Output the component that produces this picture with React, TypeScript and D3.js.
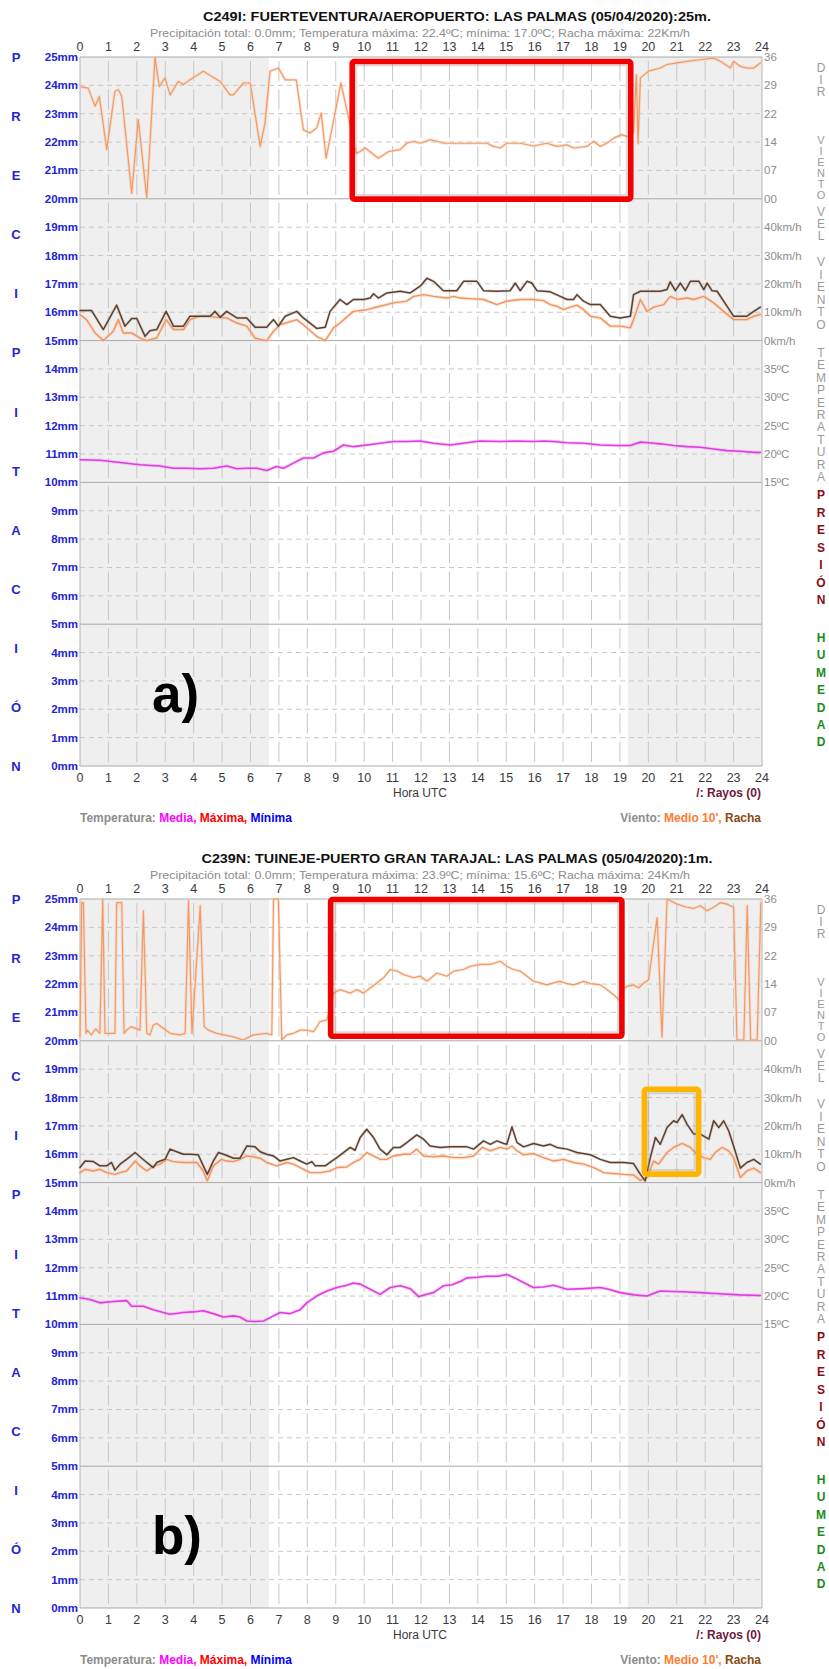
import React from 'react';
import * as d3 from 'd3';

type Pt = [number, number];

// ---- axis labels -------------------------------------------------------
const hourTicks = d3.range(0, 25);
const mmTicks = d3.range(0, 26);
const dirTickValues = [0, 7.2, 14.4, 21.6, 28.8, 36];
const dirTickLabels = ['00', '07', '14', '22', '29', '36'];
const speedTickValues = [0, 10, 20, 30, 40];
const speedTickLabels = ['0km/h', '10km/h', '20km/h', '30km/h', '40km/h'];
const tempTickValues = [15, 20, 25, 30, 35];
const tempTickLabels = ['15ºC', '20ºC', '25ºC', '30ºC', '35ºC'];

// night shading (hours UTC)
const sunrise = 6.65;
const sunset = 19.28;

// ---- station C249I (Fuerteventura aeropuerto) ---------------------------
const titleA = 'C249I: FUERTEVENTURA/AEROPUERTO: LAS PALMAS (05/04/2020):25m.';
const subtitleA =
  'Precipitación total: 0.0mm; Temperatura máxima: 22.4ºC; mínima: 17.0ºC; Racha máxima: 22Km/h';

// wind direction, tens of degrees
const dirA: Pt[] = [
  [0.04, 28.4], [0.29, 28.1], [0.53, 23.5], [0.68, 26.0], [0.94, 12.5], [1.23, 27.3], [1.35, 27.7],
  [1.47, 26.0], [1.82, 1.4], [2.05, 20.1], [2.35, 0.2], [2.64, 36.0], [2.79, 28.5], [2.99, 30.7],
  [3.17, 26.4], [3.46, 29.8], [3.64, 29.0], [3.87, 30.2], [4.34, 32.4], [4.93, 29.8], [5.28, 26.4],
  [5.4, 26.4], [5.75, 29.4], [5.99, 29.4], [6.34, 13.3], [6.51, 19.2], [6.69, 32.4], [6.98, 33.2],
  [7.22, 30.2], [7.61, 30.2], [7.86, 17.5], [8.1, 16.7], [8.33, 18.0], [8.49, 21.8], [8.66, 10.3],
  [8.86, 17.5], [9.18, 29.4], [9.39, 22.6], [9.72, 11.6], [9.86, 12.0], [10.04, 12.9], [10.5, 10.3],
  [10.86, 12.0], [11.27, 12.5], [11.5, 14.1], [11.74, 14.6], [11.97, 14.1], [12.32, 15.0],
  [12.56, 14.6], [12.79, 14.1], [13.62, 14.1], [14.32, 14.1], [14.55, 13.3], [14.79, 12.9],
  [15.02, 14.1], [15.49, 14.1], [15.96, 13.4], [16.43, 14.1], [16.78, 13.3], [17.14, 13.7],
  [17.37, 12.9], [17.84, 13.3], [18.08, 14.6], [18.31, 13.3], [18.54, 14.1], [18.78, 15.4],
  [19.07, 16.3], [19.25, 15.8], [19.48, 16.7], [19.58, 31.5], [19.64, 14.0], [19.72, 30.7],
  [20.01, 32.4], [20.42, 33.2], [20.66, 34.1], [21.01, 34.5], [21.36, 34.9], [21.83, 35.3],
  [22.3, 35.7], [22.54, 34.9], [22.89, 33.2], [23.0, 34.9], [23.24, 33.6], [23.47, 33.2],
  [23.71, 33.2], [23.94, 34.5],
];

// gusts (km/h)
const gustA: Pt[] = [
  [0, 10.6], [0.41, 10.6], [0.82, 3.9], [1.29, 12.5], [1.58, 5.1], [1.82, 7.8], [2.0, 7.8],
  [2.29, 1.5], [2.46, 3.5], [2.7, 3.9], [3.03, 10.3], [3.29, 5.1], [3.64, 5.1], [3.87, 8.6],
  [4.23, 8.6], [4.58, 8.6], [4.75, 10.3], [4.93, 8.2], [5.16, 10.3], [5.52, 8.0], [5.87, 8.0],
  [6.16, 4.7], [6.57, 4.7], [6.81, 7.4], [6.98, 5.1], [7.22, 8.6], [7.63, 10.3], [7.86, 8.0],
  [8.33, 4.3], [8.63, 4.7], [8.8, 10.3], [9.15, 14.5], [9.39, 12.7], [9.62, 14.5], [9.98, 14.5],
  [10.21, 15.0], [10.33, 16.5], [10.5, 15.0], [10.8, 16.8], [11.27, 17.4], [11.62, 16.8],
  [11.97, 19.2], [12.21, 22.0], [12.44, 20.9], [12.79, 17.6], [13.26, 17.6], [13.5, 20.9],
  [13.97, 20.9], [14.2, 17.6], [14.67, 17.4], [15.14, 17.6], [15.32, 20.3], [15.49, 17.6],
  [15.73, 20.9], [15.9, 20.3], [16.08, 17.6], [16.55, 17.2], [16.9, 15.6], [17.14, 14.5],
  [17.37, 14.5], [17.49, 16.2], [17.72, 13.9], [17.96, 12.7], [18.31, 12.7], [18.66, 8.6],
  [19.01, 8.0], [19.37, 8.6], [19.48, 16.2], [19.72, 17.4], [20.42, 17.4], [20.66, 18.0],
  [20.77, 20.7], [20.95, 17.6], [21.13, 20.3], [21.3, 17.6], [21.48, 20.9], [21.78, 20.9],
  [21.95, 18.0], [22.07, 20.3], [22.24, 17.6], [22.42, 17.4], [23.0, 8.6], [23.47, 8.6],
  [23.71, 10.3], [23.94, 11.8],
];

// 10-minute mean wind (km/h)
const windA: Pt[] = [
  [0, 9.2], [0.23, 7.4], [0.53, 2.7], [0.82, 0], [1.17, 3.3], [1.35, 7.4], [1.52, 2.7], [1.82, 2.7],
  [2.11, 0.9], [2.35, 0], [2.7, 0.9], [3.03, 7.4], [3.29, 3.9], [3.64, 3.9], [3.87, 7.4], [4.23, 8.6],
  [4.58, 8.6], [4.81, 8.2], [5.16, 8.0], [5.52, 6.2], [5.87, 5.1], [6.16, 0.9], [6.34, 0.4],
  [6.57, 0], [6.81, 3.3], [7.04, 5.6], [7.63, 7.4], [7.86, 5.6], [8.33, 1.5], [8.63, 0], [8.92, 4.5],
  [9.15, 6.2], [9.62, 10.3], [10.09, 10.9], [10.56, 12.1], [11.03, 13.3], [11.5, 13.9],
  [11.74, 15.6], [12.09, 16.2], [12.44, 15.6], [12.91, 15.0], [13.15, 15.6], [13.38, 15.0],
  [13.85, 14.7], [14.2, 14.5], [14.67, 12.7], [15.02, 13.9], [15.49, 14.5], [15.96, 14.5],
  [16.31, 14.1], [16.55, 12.7], [16.78, 12.1], [17.02, 10.9], [17.25, 11.8], [17.49, 12.5],
  [17.72, 10.9], [17.96, 8.6], [18.31, 8.0], [18.66, 5.1], [19.01, 5.1], [19.37, 4.5], [19.48, 7.4],
  [19.72, 14.5], [19.95, 10.3], [20.19, 11.8], [20.54, 12.7], [20.77, 15.6], [21.01, 14.5],
  [21.36, 15.0], [21.6, 14.5], [21.95, 15.6], [22.3, 13.3], [22.65, 10.3], [23.0, 7.4], [23.47, 7.4],
  [23.71, 8.6], [23.94, 9.2],
];

// mean temperature (ºC)
const tempA: Pt[] = [
  [0, 19.0], [0.7, 18.9], [1.41, 18.5], [2.11, 18.1], [2.82, 17.9], [3.29, 17.5], [3.76, 17.5],
  [4.23, 17.4], [4.69, 17.5], [5.16, 17.9], [5.52, 17.4], [5.87, 17.5], [6.22, 17.5], [6.57, 17.1],
  [6.92, 17.8], [7.16, 17.5], [7.51, 18.4], [7.86, 19.3], [8.22, 19.3], [8.57, 20.2], [8.92, 20.5],
  [9.27, 21.6], [9.62, 21.3], [10.09, 21.6], [10.56, 21.9], [11.03, 22.2], [11.5, 22.2],
  [11.97, 22.3], [12.44, 21.9], [13.03, 21.6], [13.62, 22.0], [14.08, 22.3], [14.79, 22.2],
  [15.38, 22.3], [15.96, 22.2], [16.31, 22.3], [16.67, 22.2], [17.14, 22.0], [17.72, 21.9],
  [18.31, 21.6], [18.9, 21.5], [19.37, 21.5], [19.72, 22.1], [20.01, 22.0], [20.42, 21.8],
  [20.89, 21.5], [21.36, 21.3], [21.83, 21.2], [22.3, 20.9], [22.77, 20.6], [23.24, 20.5],
  [23.71, 20.3], [23.94, 20.3],
];

// ---- station C239N (Tuineje - Puerto Gran Tarajal) -----------------------
const titleB = 'C239N: TUINEJE-PUERTO GRAN TARAJAL: LAS PALMAS (05/04/2020):1m.';
const subtitleB =
  'Precipitación total: 0.0mm; Temperatura máxima: 23.9ºC; mínima: 15.6ºC; Racha máxima: 24Km/h';

const dirB: Pt[] = [
  [0.0, 1.0], [0.06, 35.1], [0.12, 35.1], [0.21, 1.9], [0.26, 2.7], [0.4, 1.5], [0.55, 3.0],
  [0.7, 1.9], [0.8, 36.0], [0.88, 1.9], [1.1, 1.9], [1.23, 1.9], [1.29, 35.1], [1.47, 35.1],
  [1.55, 1.9], [1.64, 2.7], [1.8, 3.6], [2.11, 2.7], [2.23, 33.0], [2.35, 1.9], [2.46, 1.5],
  [2.58, 4.0], [2.7, 4.4], [2.93, 3.2], [3.17, 1.9], [3.52, 1.5], [3.7, 1.9], [3.82, 35.6],
  [3.94, 1.9], [4.23, 34.3], [4.37, 3.6], [4.52, 2.7], [4.81, 1.9], [5.4, 1.0], [5.75, 0.2],
  [6.1, 1.5], [6.57, 1.9], [6.75, 1.5], [6.81, 36.0], [6.98, 36.0], [7.1, 0.2], [7.28, 1.5],
  [7.51, 1.9], [7.75, 2.7], [7.98, 2.7], [8.22, 2.3], [8.45, 4.9], [8.69, 5.3], [8.92, 12.1],
  [9.15, 13.0], [9.51, 12.1], [9.74, 13.0], [9.98, 12.1], [10.21, 13.4], [10.45, 14.7],
  [10.68, 16.0], [10.92, 18.1], [11.15, 17.7], [11.39, 16.8], [11.74, 16.0], [11.97, 16.4],
  [12.21, 15.1], [12.56, 17.2], [12.91, 16.4], [13.15, 17.7], [13.5, 18.1], [13.73, 18.9],
  [14.08, 19.4], [14.44, 19.4], [14.79, 20.2], [15.02, 18.9], [15.26, 18.1], [15.49, 17.7],
  [15.73, 16.4], [15.96, 15.1], [16.2, 14.7], [16.43, 14.2], [16.67, 14.7], [16.9, 15.1],
  [17.14, 14.5], [17.37, 14.2], [17.72, 15.1], [17.96, 14.5], [18.31, 14.2], [18.54, 13.0],
  [18.78, 11.7], [18.96, 10.4], [19.07, 13.0], [19.25, 13.8], [19.48, 14.2], [19.66, 13.4],
  [19.84, 14.7], [20.01, 15.5], [20.31, 31.3], [20.48, 1.0], [20.66, 36.0], [20.77, 35.6],
  [21.01, 34.7], [21.36, 33.9], [21.6, 33.6], [21.83, 34.3], [22.07, 33.0], [22.3, 33.9],
  [22.54, 35.1], [22.77, 34.7], [23.0, 33.9], [23.12, 0.2], [23.36, 0.2], [23.48, 34.3],
  [23.6, 0.2], [23.83, 0.2], [23.96, 35.1],
];

const gustB: Pt[] = [
  [0, 5.3], [0.18, 7.6], [0.47, 7.4], [0.7, 5.9], [0.94, 5.9], [1.11, 7.1], [1.23, 4.4], [1.41, 6.5],
  [1.64, 8.2], [1.94, 10.6], [2.11, 9.1], [2.35, 7.1], [2.58, 5.3], [2.7, 7.1], [2.82, 7.6],
  [2.99, 8.2], [3.17, 11.8], [3.4, 10.9], [3.64, 10.0], [3.87, 10.0], [4.16, 9.8], [4.34, 5.9],
  [4.48, 2.9], [4.69, 7.6], [4.87, 10.6], [5.1, 9.8], [5.4, 8.6], [5.63, 8.6], [5.87, 12.9],
  [6.16, 12.6], [6.34, 10.9], [6.57, 10.0], [6.81, 9.4], [7.04, 7.6], [7.28, 8.2], [7.51, 8.8],
  [7.75, 7.6], [7.98, 6.5], [8.16, 7.4], [8.28, 5.9], [8.63, 5.9], [8.86, 7.6], [9.04, 8.8],
  [9.27, 10.6], [9.51, 12.4], [9.68, 11.4], [9.86, 15.9], [10.09, 18.8], [10.33, 15.9],
  [10.56, 11.8], [10.8, 9.8], [11.03, 12.4], [11.27, 12.4], [11.5, 14.1], [11.85, 16.8],
  [12.09, 15.3], [12.32, 12.9], [12.68, 12.4], [13.03, 12.6], [13.62, 12.6], [13.85, 11.8],
  [14.2, 14.7], [14.44, 13.5], [14.67, 14.7], [14.91, 13.8], [15.02, 13.5], [15.2, 19.6],
  [15.38, 14.1], [15.61, 12.6], [15.96, 13.8], [16.31, 12.9], [16.55, 13.5], [16.78, 12.4],
  [17.14, 11.8], [17.49, 10.6], [17.96, 9.8], [18.31, 8.2], [18.66, 7.1], [19.13, 7.1],
  [19.48, 6.7], [19.72, 2.9], [19.89, 0.6], [20.07, 8.8], [20.25, 15.9], [20.42, 13.5],
  [20.66, 19.4], [20.89, 21.8], [21.01, 21.2], [21.19, 24.0], [21.36, 20.6], [21.6, 17.1],
  [21.83, 17.1], [22.13, 15.3], [22.3, 21.8], [22.48, 19.4], [22.65, 21.8], [22.83, 18.2],
  [23.0, 12.9], [23.24, 5.1], [23.47, 7.1], [23.71, 8.2], [23.94, 6.5],
];

const windB: Pt[] = [
  [0, 3.5], [0.18, 4.7], [0.47, 4.1], [0.7, 4.7], [0.94, 3.5], [1.23, 2.9], [1.41, 3.5], [1.64, 4.1],
  [1.94, 7.6], [2.11, 5.9], [2.35, 4.1], [2.58, 5.9], [2.82, 6.5], [3.05, 8.2], [3.29, 7.4],
  [3.64, 7.1], [4.11, 7.1], [4.34, 4.1], [4.48, 0.6], [4.69, 5.9], [4.98, 8.2], [5.16, 7.6],
  [5.4, 7.4], [5.63, 8.2], [5.87, 9.4], [6.1, 9.1], [6.34, 8.6], [6.57, 7.1], [6.92, 5.9],
  [7.28, 7.1], [7.51, 6.5], [7.75, 5.3], [8.1, 3.5], [8.45, 3.5], [8.8, 4.1], [9.04, 5.3],
  [9.39, 5.5], [9.62, 7.1], [9.86, 8.2], [10.09, 10.6], [10.33, 9.4], [10.56, 8.2], [10.8, 8.2],
  [11.03, 9.4], [11.39, 10.0], [11.62, 10.0], [11.85, 11.8], [12.09, 9.4], [12.44, 9.1],
  [12.79, 9.4], [13.15, 8.8], [13.5, 8.8], [13.85, 9.4], [14.15, 12.4], [14.44, 11.2],
  [14.79, 12.4], [15.02, 11.8], [15.2, 12.9], [15.38, 11.2], [15.61, 9.8], [15.96, 10.2],
  [16.31, 8.8], [16.67, 7.6], [17.02, 8.2], [17.37, 7.1], [17.72, 6.5], [18.08, 5.3], [18.43, 3.5],
  [18.78, 3.2], [19.13, 2.9], [19.48, 2.7], [19.72, 0.8], [19.95, 1.8], [20.19, 7.6], [20.36, 6.5],
  [20.66, 10.6], [20.89, 12.4], [21.19, 13.8], [21.48, 12.4], [21.71, 10.0], [21.95, 8.8],
  [22.18, 8.2], [22.36, 10.6], [22.59, 12.4], [22.83, 11.2], [23.0, 8.8], [23.24, 1.8],
  [23.47, 4.1], [23.71, 5.1], [23.94, 3.5],
];

const tempB: Pt[] = [
  [0, 19.7], [0.35, 19.4], [0.7, 18.8], [1.06, 19.0], [1.64, 19.2], [1.82, 18.2], [2.23, 18.2],
  [2.58, 17.6], [2.93, 17.1], [3.17, 16.8], [3.64, 17.1], [3.99, 17.2], [4.34, 17.4], [4.69, 16.9],
  [5.05, 16.3], [5.4, 16.5], [5.63, 16.3], [5.87, 15.6], [6.1, 15.5], [6.46, 15.6], [6.69, 16.2],
  [7.04, 17.1], [7.39, 16.9], [7.75, 17.6], [7.98, 18.8], [8.33, 20.0], [8.69, 20.9], [9.04, 21.5],
  [9.39, 21.9], [9.62, 22.3], [9.86, 22.1], [10.21, 21.2], [10.56, 20.3], [10.92, 21.5],
  [11.27, 21.8], [11.62, 21.3], [11.92, 19.9], [12.2, 20.3], [12.44, 20.6], [12.79, 21.8],
  [13.1, 22.0], [13.4, 22.6], [13.62, 23.2], [14.0, 23.3], [14.32, 23.5], [14.7, 23.5],
  [15.02, 23.8], [15.3, 23.2], [15.6, 22.4], [15.96, 21.5], [16.3, 21.6], [16.67, 21.9],
  [17.14, 21.2], [17.72, 21.3], [18.31, 21.5], [18.6, 21.2], [19.01, 20.6], [19.5, 20.2],
  [19.95, 20.0], [20.2, 20.5], [20.42, 20.9], [20.9, 20.8], [21.4, 20.7], [21.83, 20.6],
  [22.5, 20.4], [23.2, 20.2], [23.94, 20.1],
];

// highlighted windows: [hourFrom, hourTo, mmFrom, mmTo]
const boxesA = [{ h: [9.58, 19.38], mm: [19.99, 24.84], color: '#f20000' }];
const boxesB = [
  { h: [8.82, 19.07], mm: [20.16, 24.98], color: '#f20000' },
  { h: [19.86, 21.77], mm: [15.3, 18.29], color: '#ffb400' },
];

// ---- layout ------------------------------------------------------------
const W = 829;
const H = 1669;
const PANEL_SHIFT = 842;
const FONT = "'Liberation Sans', Arial, Helvetica, sans-serif";

const x = d3.scaleLinear().domain([0, 24]).range([80, 762]);
const yMM = d3.scaleLinear().domain([0, 25]).range([766, 57]);
const yDir = d3.scaleLinear().domain([0, 36]).range([yMM(20), yMM(25)]);
const ySpeed = d3.scaleLinear().domain([0, 50]).range([yMM(15), yMM(20)]);
const yTemp = d3.scaleLinear().domain([15, 40]).range([yMM(10), yMM(15)]);

const pathFor = (data: Pt[], sy: d3.ScaleLinear<number, number>) =>
  d3.line<Pt>().x((d) => x(d[0])).y((d) => sy(d[1])).curve(d3.curveLinear)(data) ?? '';

const BLUE = '#2424d4';
const GREY_TXT = '#8c8c8c';

type Stack = { word: string; y0: number; step: number; color: string; bold: boolean; size: number };
const sideWords: Stack[] = [
  { word: 'DIR', y0: 68, step: 12, color: '#9a9a9a', bold: false, size: 12 },
  { word: 'VIENTO', y0: 140, step: 11, color: '#9a9a9a', bold: false, size: 11 },
  { word: 'VEL', y0: 212, step: 12, color: '#9a9a9a', bold: false, size: 12 },
  { word: 'VIENTO', y0: 262, step: 12.6, color: '#9a9a9a', bold: false, size: 12 },
  { word: 'TEMPERATURA', y0: 353, step: 12.4, color: '#9a9a9a', bold: false, size: 12 },
  { word: 'PRESIÓN', y0: 495, step: 17.5, color: '#8b0a14', bold: true, size: 12 },
  { word: 'HUMEDAD', y0: 638, step: 17.4, color: '#1c8a1c', bold: true, size: 12 },
];

function Line({ d, color, halo, width, haloWidth }: { d: string; color: string; halo: string; width: number; haloWidth: number }) {
  return (
    <g fill="none" strokeLinejoin="round" strokeLinecap="round">
      <path d={d} stroke={halo} strokeWidth={haloWidth} strokeOpacity={0.45} />
      <path d={d} stroke={color} strokeWidth={width} />
    </g>
  );
}

type PanelProps = {
  dy: number;
  title: string;
  titleLen: number;
  subtitle: string;
  dir: Pt[];
  gust: Pt[];
  wind: Pt[];
  temp: Pt[];
  tag: string;
  boxes: { h: number[]; mm: number[]; color: string }[];
};

function Panel({ dy, title, titleLen, subtitle, dir, gust, wind, temp, tag, boxes }: PanelProps) {
  const top = yMM(25);
  const bottom = yMM(0);
  const left = x(0);
  const right = x(24);
  const mmStep = yMM(0) - yMM(1);
  const letters = 'PRECIPITACIÓN'.split('');
  const letterStep = (bottom - top) / (letters.length - 1);

  return (
    <g transform={`translate(0,${dy})`} fontFamily={FONT}>
      {/* header */}
      <text x={457} y={20.5} textAnchor="middle" fontSize={12.5} fontWeight="bold" fill="#111"
        textLength={titleLen} lengthAdjust="spacingAndGlyphs">{title}</text>
      <text x={420} y={36.5} textAnchor="middle" fontSize={11} fill={GREY_TXT}
        textLength={540} lengthAdjust="spacingAndGlyphs">{subtitle}</text>

      {/* night shading */}
      <rect x={left} y={top} width={x(sunrise) - left} height={bottom - top} fill="#efefef" />
      <rect x={x(sunset)} y={top} width={right - x(sunset)} height={bottom - top} fill="#efefef" />

      {/* horizontal grid */}
      {mmTicks.map((m) => {
        const major = m % 5 === 0;
        return (
          <line key={`h${m}`} x1={left} x2={right} y1={yMM(m)} y2={yMM(m)}
            stroke={major ? '#a9a9a9' : '#c8c8c8'} strokeWidth={1}
            strokeDasharray={major ? undefined : '5 4'} />
        );
      })}
      {/* vertical grid */}
      {hourTicks.map((h) => {
        const edge = h === 0 || h === 24;
        return (
          <line key={`v${h}`} x1={x(h)} x2={x(h)} y1={top} y2={bottom}
            stroke={edge ? '#b4b4b4' : '#c6c6c6'} strokeWidth={1}
            strokeDasharray={edge ? undefined : `${mmStep - 8} 8`}
            strokeDashoffset={edge ? undefined : mmStep - 4} />
        );
      })}

      {/* series */}
      <Line d={pathFor(dir, yDir)} color="#f29a66" halo="#f9c6a6" width={1.2} haloWidth={3} />
      <Line d={pathFor(wind, ySpeed)} color="#f2925e" halo="#f9c9a9" width={1.4} haloWidth={3.5} />
      <Line d={pathFor(gust, ySpeed)} color="#594233" halo="#c9b2a2" width={1.5} haloWidth={3} />
      <Line d={pathFor(temp, yTemp)} color="#e03ce0" halo="#f2a4f2" width={1.6} haloWidth={3.6} />

      {/* hour labels */}
      {hourTicks.map((h) => (
        <g key={`t${h}`} fontSize={12.5} fill="#3a3a3a" textAnchor="middle">
          <text x={x(h)} y={top - 6}>{h}</text>
          <text x={x(h)} y={bottom + 16}>{h}</text>
        </g>
      ))}

      {/* left mm labels */}
      {mmTicks.map((m) => (
        <text key={`l${m}`} x={78} y={yMM(m) + 4} textAnchor="end" fontSize={11.5}
          fontWeight="bold" fill={BLUE}>{`${m}mm`}</text>
      ))}
      {letters.map((c, i) => (
        <text key={`p${i}`} x={16} y={top + i * letterStep + 5} textAnchor="middle" fontSize={13}
          fontWeight="bold" fill={BLUE}>{c}</text>
      ))}

      {/* right scales */}
      <g fontSize={11.5} fill={GREY_TXT}>
        {dirTickValues.map((v, i) => (
          <text key={`d${i}`} x={764} y={yDir(v) + 4}>{dirTickLabels[i]}</text>
        ))}
        {speedTickValues.map((v, i) => (
          <text key={`s${i}`} x={764} y={ySpeed(v) + 4}>{speedTickLabels[i]}</text>
        ))}
        {tempTickValues.map((v, i) => (
          <text key={`c${i}`} x={764} y={yTemp(v) + 4}>{tempTickLabels[i]}</text>
        ))}
      </g>

      {/* stacked side titles, one letter per row */}
      {sideWords.map((w, wi) => (
        <text key={`w${wi}`} textAnchor="middle" fontSize={w.size}
          fontWeight={w.bold ? 'bold' : 'normal'} fill={w.color}>
          {w.word.split('').map((c, i) => (
            <tspan key={i} x={821} y={w.y0 + i * w.step + 4}>{c}</tspan>
          ))}
        </text>
      ))}

      {/* footer */}
      <text x={420} y={797} textAnchor="middle" fontSize={12} fill="#3a3a3a">Hora UTC</text>
      <text x={761} y={797} textAnchor="end" fontSize={12} fontWeight="bold" fill="#6e1a3c">/: Rayos (0)</text>
      <text x={80} y={822} fontSize={12} fontWeight="bold">
        <tspan fill={GREY_TXT}>Temperatura: </tspan>
        <tspan fill="#ff00ff">Media, </tspan>
        <tspan fill="#ff0000">Máxima, </tspan>
        <tspan fill="#0000ff">Mínima</tspan>
      </text>
      <text x={761} y={822} textAnchor="end" fontSize={12} fontWeight="bold">
        <tspan fill={GREY_TXT}>Viento: </tspan>
        <tspan fill="#ff7a30">Medio 10', </tspan>
        <tspan fill="#8a4a10">Racha</tspan>
      </text>

      {/* panel tag */}
      <text x={152} y={712} fontSize={53} fontWeight="bold" fill="#000"
        fontFamily="'Liberation Sans', Arial, sans-serif">{tag}</text>

      {/* highlight boxes */}
      {boxes.map((b, i) => {
        const x0 = x(b.h[0]);
        const x1 = x(b.h[1]);
        const y0 = yMM(b.mm[1]);
        const y1 = yMM(b.mm[0]);
        return (
          <g key={`b${i}`} fill="none">
            <rect x={x0 + 4} y={y0 + 4} width={x1 - x0 - 8} height={y1 - y0 - 8}
              stroke="#9a9a9a" strokeOpacity={0.35} strokeWidth={2} rx={1} />
            <rect x={x0} y={y0} width={x1 - x0} height={y1 - y0} stroke={b.color}
              strokeWidth={5.6} rx={2} />
          </g>
        );
      })}
    </g>
  );
}

export default function App() {
  return (
    <svg width={W} height={H} viewBox={`0 0 ${W} ${H}`}
      style={{ position: 'absolute', left: 0, top: 0, background: '#fff' }}>
      <rect width={W} height={H} fill="#fff" />
      <Panel dy={0} title={titleA} titleLen={508} subtitle={subtitleA}
        dir={dirA} gust={gustA} wind={windA} temp={tempA} tag="a)" boxes={boxesA} />
      <Panel dy={PANEL_SHIFT} title={titleB} titleLen={511} subtitle={subtitleB}
        dir={dirB} gust={gustB} wind={windB} temp={tempB} tag="b)" boxes={boxesB} />
    </svg>
  );
}
